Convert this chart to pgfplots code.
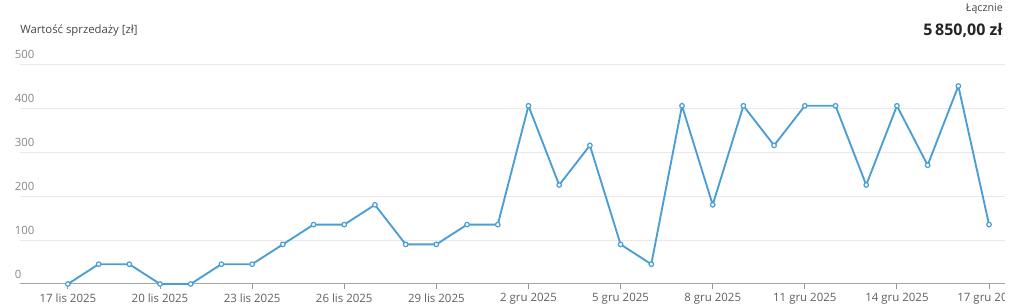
\documentclass[border=0pt]{standalone}
\usepackage{fontspec}
\setmainfont{Open Sans}
\usepackage{pgfplots}
\pgfplotsset{compat=1.18}
\definecolor{linec}{RGB}{74,158,212}
\definecolor{gridc}{RGB}{232,232,232}
\definecolor{axisc}{RGB}{165,165,165}
\definecolor{labc}{RGB}{95,95,95}
\definecolor{tickc}{RGB}{150,150,150}
\definecolor{titc}{RGB}{70,70,70}
\begin{document}
\begin{tikzpicture}
\begin{axis}[
  at={(15pt,17.25pt)}, anchor=south west,
  scale only axis, width=738.75pt, height=165pt,
  xmin=-1.56, xmax=30.52, ymin=0, ymax=500,
  axis x line*=bottom, axis y line*=left,
  y axis line style={draw=none},
  x axis line style={axisc, line width=0.75pt},
  ytick={0,100,200,300,400,500},
  ytick style={draw=none},
  ymajorgrids, major grid style={gridc, line width=0.75pt},
  xtick={0,3,6,9,12,15,18,21,24,27,30},
  xticklabels={17 lis 2025,20 lis 2025,23 lis 2025,26 lis 2025,29 lis 2025,2 gru 2025,5 gru 2025,8 gru 2025,11 gru 2025,14 gru 2025,17 gru 2025},
  tick align=outside, major tick length=4pt,
  xtick style={tickc, line width=0.75pt},
  /pgf/number format/assume math mode=true,
  yticklabel style={anchor=south west, inner sep=0pt, xshift=0pt, yshift=3.75pt, font=\fontsize{8.5}{10}\selectfont, text=labc!75},
  xticklabel style={anchor=north, inner sep=0pt, yshift=-3pt, font=\fontsize{8.6}{10}\selectfont, text=labc},
  clip=false,
]
\addplot[linec, line width=1.4pt, mark=*, mark size=1.7pt, mark options={fill=white, draw=linec, line width=0.9pt}] coordinates {
(0,0) (1,45) (2,45) (3,0) (4,0) (5,45) (6,45) (7,90) (8,135) (9,135)
(10,180) (11,90) (12,90) (13,135) (14,135) (15,405) (16,225) (17,315) (18,90) (19,45)
(20,405) (21,180) (22,405) (23,315) (24,405) (25,405) (26,225) (27,405) (28,270) (29,450) (30,135)
};
\end{axis}
\fill[white] (753.75pt,0pt) rectangle (770pt,16pt);
\node[anchor=base west, inner sep=0pt, text=titc, font=\fontsize{8.5}{10}\selectfont] at (15pt,204.75pt) {Wartość sprzedaży [zł]};
\node[anchor=base east, inner sep=0pt, text=titc, font=\fontsize{8}{10}\selectfont] at (752.25pt,221.25pt) {Łącznie};
\node[anchor=base east, inner sep=0pt, text=black!85, font=\fontsize{12}{14}\bfseries\selectfont] at (752.25pt,203.25pt) {5\,850,00 zł};
\pgfresetboundingbox
\useasboundingbox (0,0) rectangle (768pt,230.25pt);
\end{tikzpicture}
\end{document}
